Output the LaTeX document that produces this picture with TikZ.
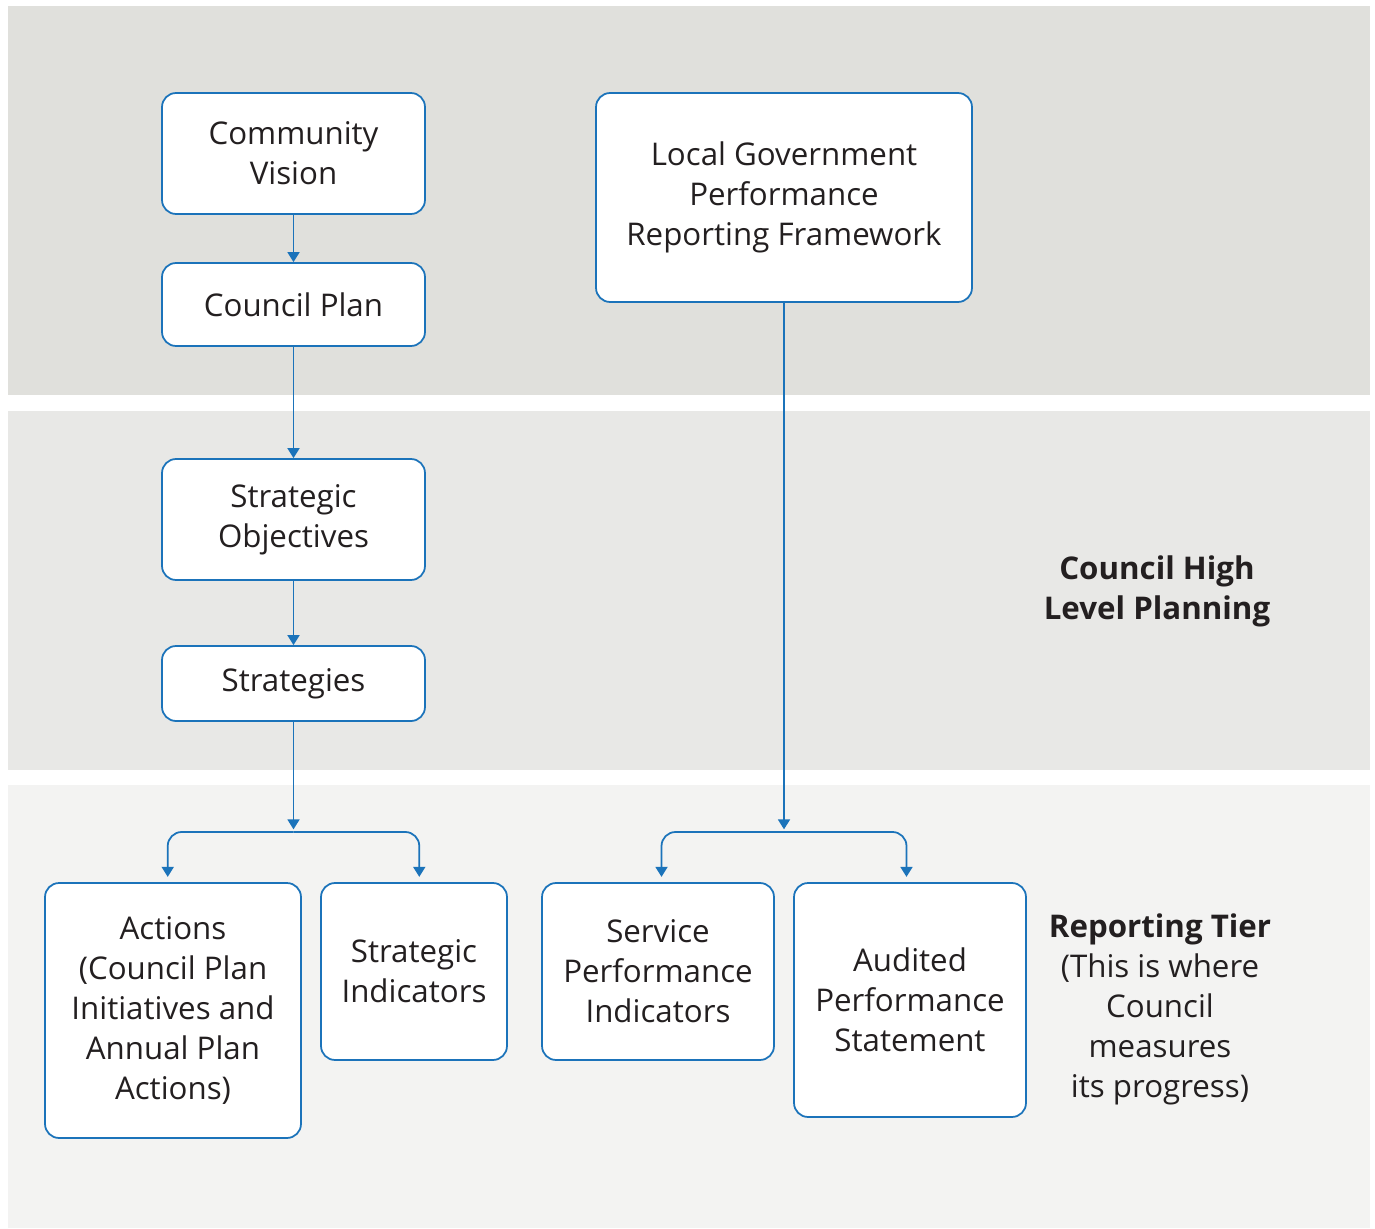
\documentclass[tikz,border=0pt]{standalone}
\usepackage{fontspec}
\setmainfont{Open Sans}
\usepackage{tikz}
\usetikzlibrary{arrows.meta,positioning,calc}
\definecolor{PlanBlue}{HTML}{1B73BA}
\definecolor{PlanInk}{HTML}{231F20}
\definecolor{BandTop}{HTML}{E0E0DC}
\definecolor{BandMid}{HTML}{E8E8E6}
\definecolor{BandLow}{HTML}{F3F3F2}

\begin{document}
\begin{tikzpicture}[
  x=0.02cm,y=-0.02cm,
  stage/.style={draw=PlanBlue,line width=1pt,fill=white,rounded corners=0.28cm,
    align=center,font=\fontsize{17.8}{22.8}\selectfont,text=PlanInk,inner sep=0pt},
  tier/.style={align=center,font=\fontsize{17.8}{22.8}\selectfont,text=PlanInk},
  link/.style={draw=PlanBlue,line width=1pt,-{Triangle[width=0.24cm,length=0.2cm]}},
  fork/.style={link,rounded corners=0.28cm}
]
\useasboundingbox (0,0) rectangle (1375,1229);
% background bands
\fill[BandTop] (8,6) rectangle (1370,395);
\fill[BandMid] (8,411) rectangle (1370,770);
\fill[BandLow] (8,785) rectangle (1370,1228);

% planning column
\node[stage,minimum width=5.26cm,minimum height=2.42cm] (vision) at (293.5,153.5) {Community\\Vision};
\node[stage,minimum width=5.26cm,minimum height=1.66cm] (cplan) at (293.5,304.5) {Council Plan};
\node[stage,minimum width=5.26cm,minimum height=2.42cm] (objectives) at (293.5,519.5) {Strategic\\Objectives};
\node[stage,minimum width=5.26cm,minimum height=1.5cm] (strategies) at (293.5,683.5) {Strategies};

% framework column
\node[stage,minimum width=7.52cm,minimum height=4.18cm] (lgprf) at (784,197.5) {Local Government\\Performance\\Reporting Framework};

% reporting boxes
\node[stage,minimum width=5.12cm,minimum height=5.1cm] (actions) at (173,1010.5) {Actions\\(Council Plan\\Initiatives and\\Annual Plan\\Actions)};
\node[stage,minimum width=3.72cm,minimum height=3.54cm] (sind) at (414,971.5) {Strategic\\Indicators};
\node[stage,minimum width=4.64cm,minimum height=3.54cm] (spi) at (658,971.5) {Service\\Performance\\Indicators};
\node[stage,minimum width=4.64cm,minimum height=4.68cm] (audited) at (910,1000) {Audited\\Performance\\Statement};

% side labels
\node[tier] (highlvl) at (1157,591) {\textbf{Council High}\\\textbf{Level Planning}};
\node[tier] (reptier) at (1160,1009) {\textbf{Reporting Tier}\\(This is where\\Council\\measures\\its progress)};

% connectors
\coordinate (lsplit) at (293.5,832);
\coordinate (rsplit) at (784,832);
\draw[link] (vision) -- (cplan);
\draw[link] (cplan) -- (objectives);
\draw[link] (objectives) -- (strategies);
\draw[link,shorten >=1.5] (strategies) -- (lsplit);
\draw[link,shorten >=1.5] (lgprf) -- (rsplit);
\draw[fork,shorten >=3] (lsplit) -| ([xshift=-3]actions.north);
\draw[fork,shorten >=3] (lsplit) -| ([xshift=3]sind.north);
\draw[fork,shorten >=3] (rsplit) -| ([xshift=2]spi.north);
\draw[fork,shorten >=3] (rsplit) -| ([xshift=-2]audited.north);
\end{tikzpicture}
\end{document}
